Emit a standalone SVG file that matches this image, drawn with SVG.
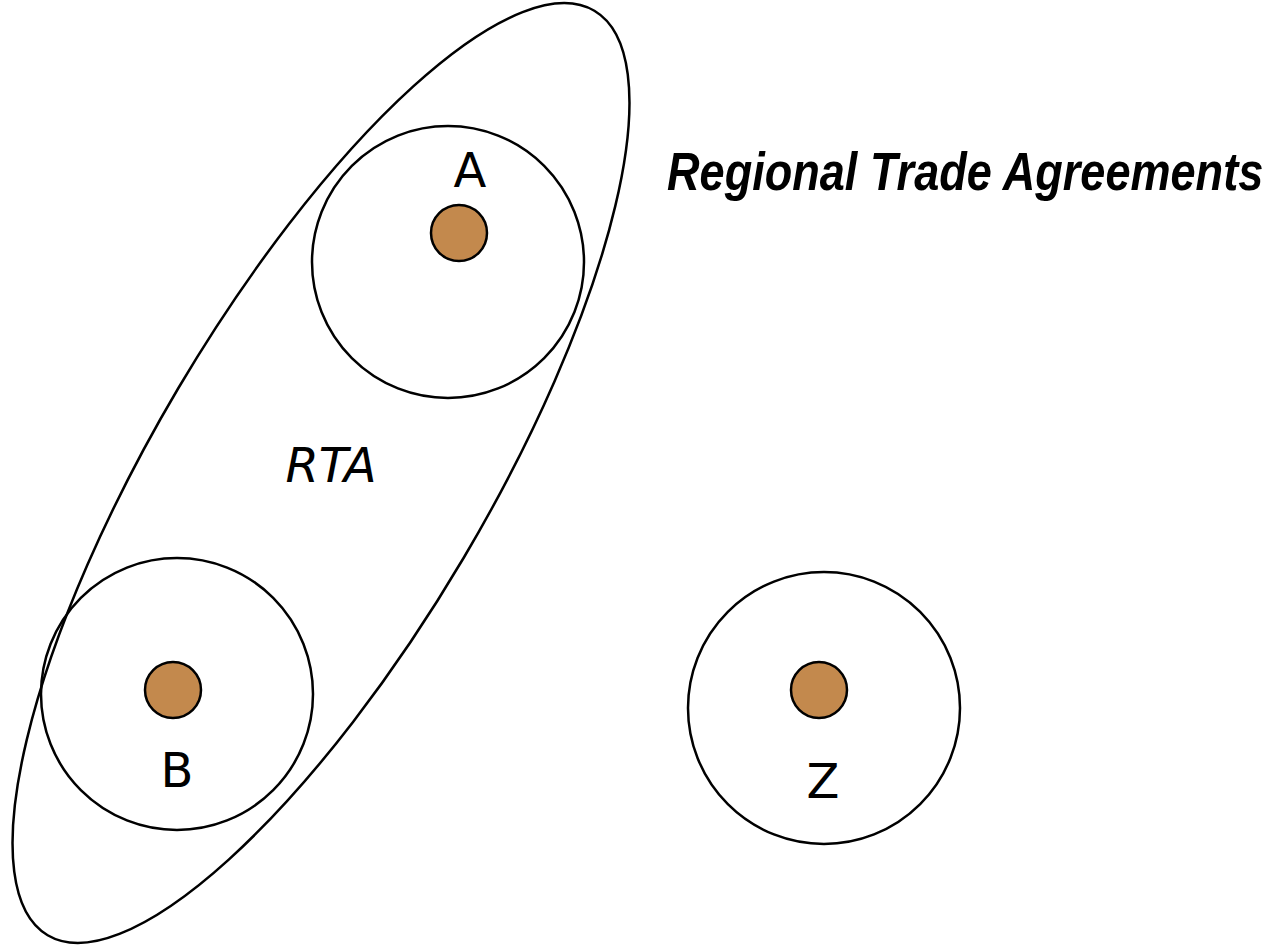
<svg xmlns="http://www.w3.org/2000/svg" width="1277" height="951" viewBox="0 0 1277 951">
<style>
.ring{fill:none;stroke:#000;stroke-width:2.5}
.dot{fill:#c3894d;stroke:#000;stroke-width:2.5}
.lbl{font-family:"DejaVu Sans",sans-serif;font-size:48px;fill:#000;text-anchor:middle}
.title{font-family:"Liberation Sans",Arial,sans-serif;font-size:54px;font-weight:bold;font-style:italic;fill:#000}
</style>
<rect width="1277" height="951" fill="#fff"/>
<g id="rta">
<ellipse class="ring" cx="321" cy="473" rx="537" ry="166" transform="rotate(-59.4 321 473)"/>
<text class="lbl" x="331" y="482" font-style="italic">RTA</text>
</g>
<g id="nodeA">
<circle class="ring" cx="448" cy="262" r="136"/>
<circle class="dot" cx="459" cy="233" r="28"/>
<text class="lbl" x="470" y="187">A</text>
</g>
<g id="nodeB">
<circle class="ring" cx="177" cy="694" r="136"/>
<circle class="dot" cx="173" cy="690" r="28"/>
<text class="lbl" x="177" y="787">B</text>
</g>
<g id="nodeZ">
<circle class="ring" cx="824" cy="708" r="136"/>
<circle class="dot" cx="819" cy="690" r="28"/>
<text class="lbl" x="823" y="798">Z</text>
</g>
<g id="connectors"></g>
<text class="title" transform="translate(667 190) scale(0.835 1)" x="0" y="0">Regional Trade Agreements</text>
</svg>
